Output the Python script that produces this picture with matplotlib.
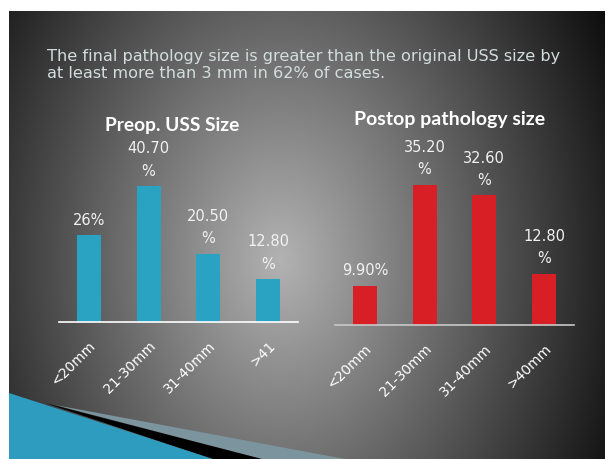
import numpy as np
import matplotlib
matplotlib.use('Agg')
import matplotlib.pyplot as plt
from matplotlib.patches import Polygon

# data
categories_pre = ['<20mm', '21-30mm', '31-40mm', '>41']
values_pre = [26.0, 40.7, 20.5, 12.8]
labels_pre = ['26%', '40.70\n%', '20.50\n%', '12.80\n%']

categories_post = ['<20mm', '21-30mm', '31-40mm', '>40mm']
values_post = [9.9, 35.2, 32.6, 12.8]
labels_post = ['9.90%', '35.20\n%', '32.60\n%', '12.80\n%']

headline = ('The final pathology size is greater than the original USS size by\n'
            'at least more than 3 mm in 62% of cases.')

W, H = 608, 459
fig = plt.figure(figsize=(W / 100, H / 100), dpi=100)
fig.patch.set_facecolor('white')

# slide background (radial grey gradient), pixel coords
bg = fig.add_axes([9 / W, 0, 596 / W, 448 / H])
bg.set_xlim(9, 605)
bg.set_ylim(459, 11)
bg.axis('off')
xx, yy = np.meshgrid(np.arange(9, 605), np.arange(11, 459))
d = np.sqrt(((xx - 280) / 345.0) ** 2 + ((yy - 260) / 470.0) ** 2)
shade = np.clip(0.70 - 0.60 * d, 0.04, 1)
bg.imshow(np.dstack([shade] * 3), extent=(9, 605, 459, 11), aspect='auto')

# decorative wedges bottom-left
bg.add_patch(Polygon([(55, 405), (262, 459), (345, 459)], closed=True, color='#7b949e', lw=0))
bg.add_patch(Polygon([(45, 403), (212, 459), (262, 459)], closed=True, color='black', lw=0))
bg.add_patch(Polygon([(9, 393), (9, 459), (213, 459)], closed=True, color='#2e9cbf', lw=0))

fig.text(47 / W, 1 - 49 / H, headline, color='#d3dddd', fontsize=11.6,
         ha='left', va='top', linespacing=1.2, family='DejaVu Sans')


def draw_chart(rect, cats, vals, labels, color, title, title_y, ytop, base_color):
    ax = fig.add_axes(rect)
    ax.set_facecolor('none')
    x = np.arange(len(cats))
    ax.bar(x, vals, width=0.4, color=color)
    ax.set_xlim(-0.5, 3.5)
    ax.set_ylim(0, ytop)
    for s in ['top', 'left', 'right']:
        ax.spines[s].set_visible(False)
    ax.spines['bottom'].set_color(base_color)
    ax.spines['bottom'].set_linewidth(1.2)
    ax.set_yticks([])
    ax.set_xticks(x)
    ax.set_xticklabels(cats, rotation=45, ha='right', rotation_mode='anchor',
                       color='white', fontsize=10)
    ax.tick_params(axis='x', length=0, pad=12)
    for xi, v, lab in zip(x, vals, labels):
        ax.annotate(lab, (xi, v), xytext=(0, 5.5), textcoords='offset points',
                    ha='center', va='bottom', color='#f2f2f2', fontsize=10.5,
                    linespacing=1.6, annotation_clip=False)
    fig.text(title[1], 1 - title_y / H, title[0], color='white', fontsize=title[2],
             fontweight='bold', ha='center', va='center', family='Lato')
    return ax


draw_chart([59 / W, (H - 322) / H, 239 / W, 150 / H], categories_pre, values_pre,
           labels_pre, '#2aa3c2', ('Preop. USS Size', 172 / W, 13.8), 125, 45, 'white')
draw_chart([335 / W, (H - 325) / H, 239 / W, 159 / H], categories_post, values_post,
           labels_post, '#d91f26', ('Postop pathology size', 450 / W, 14), 120, 40, '#c8c8c8')

fig.savefig('out.png', dpi=100)
